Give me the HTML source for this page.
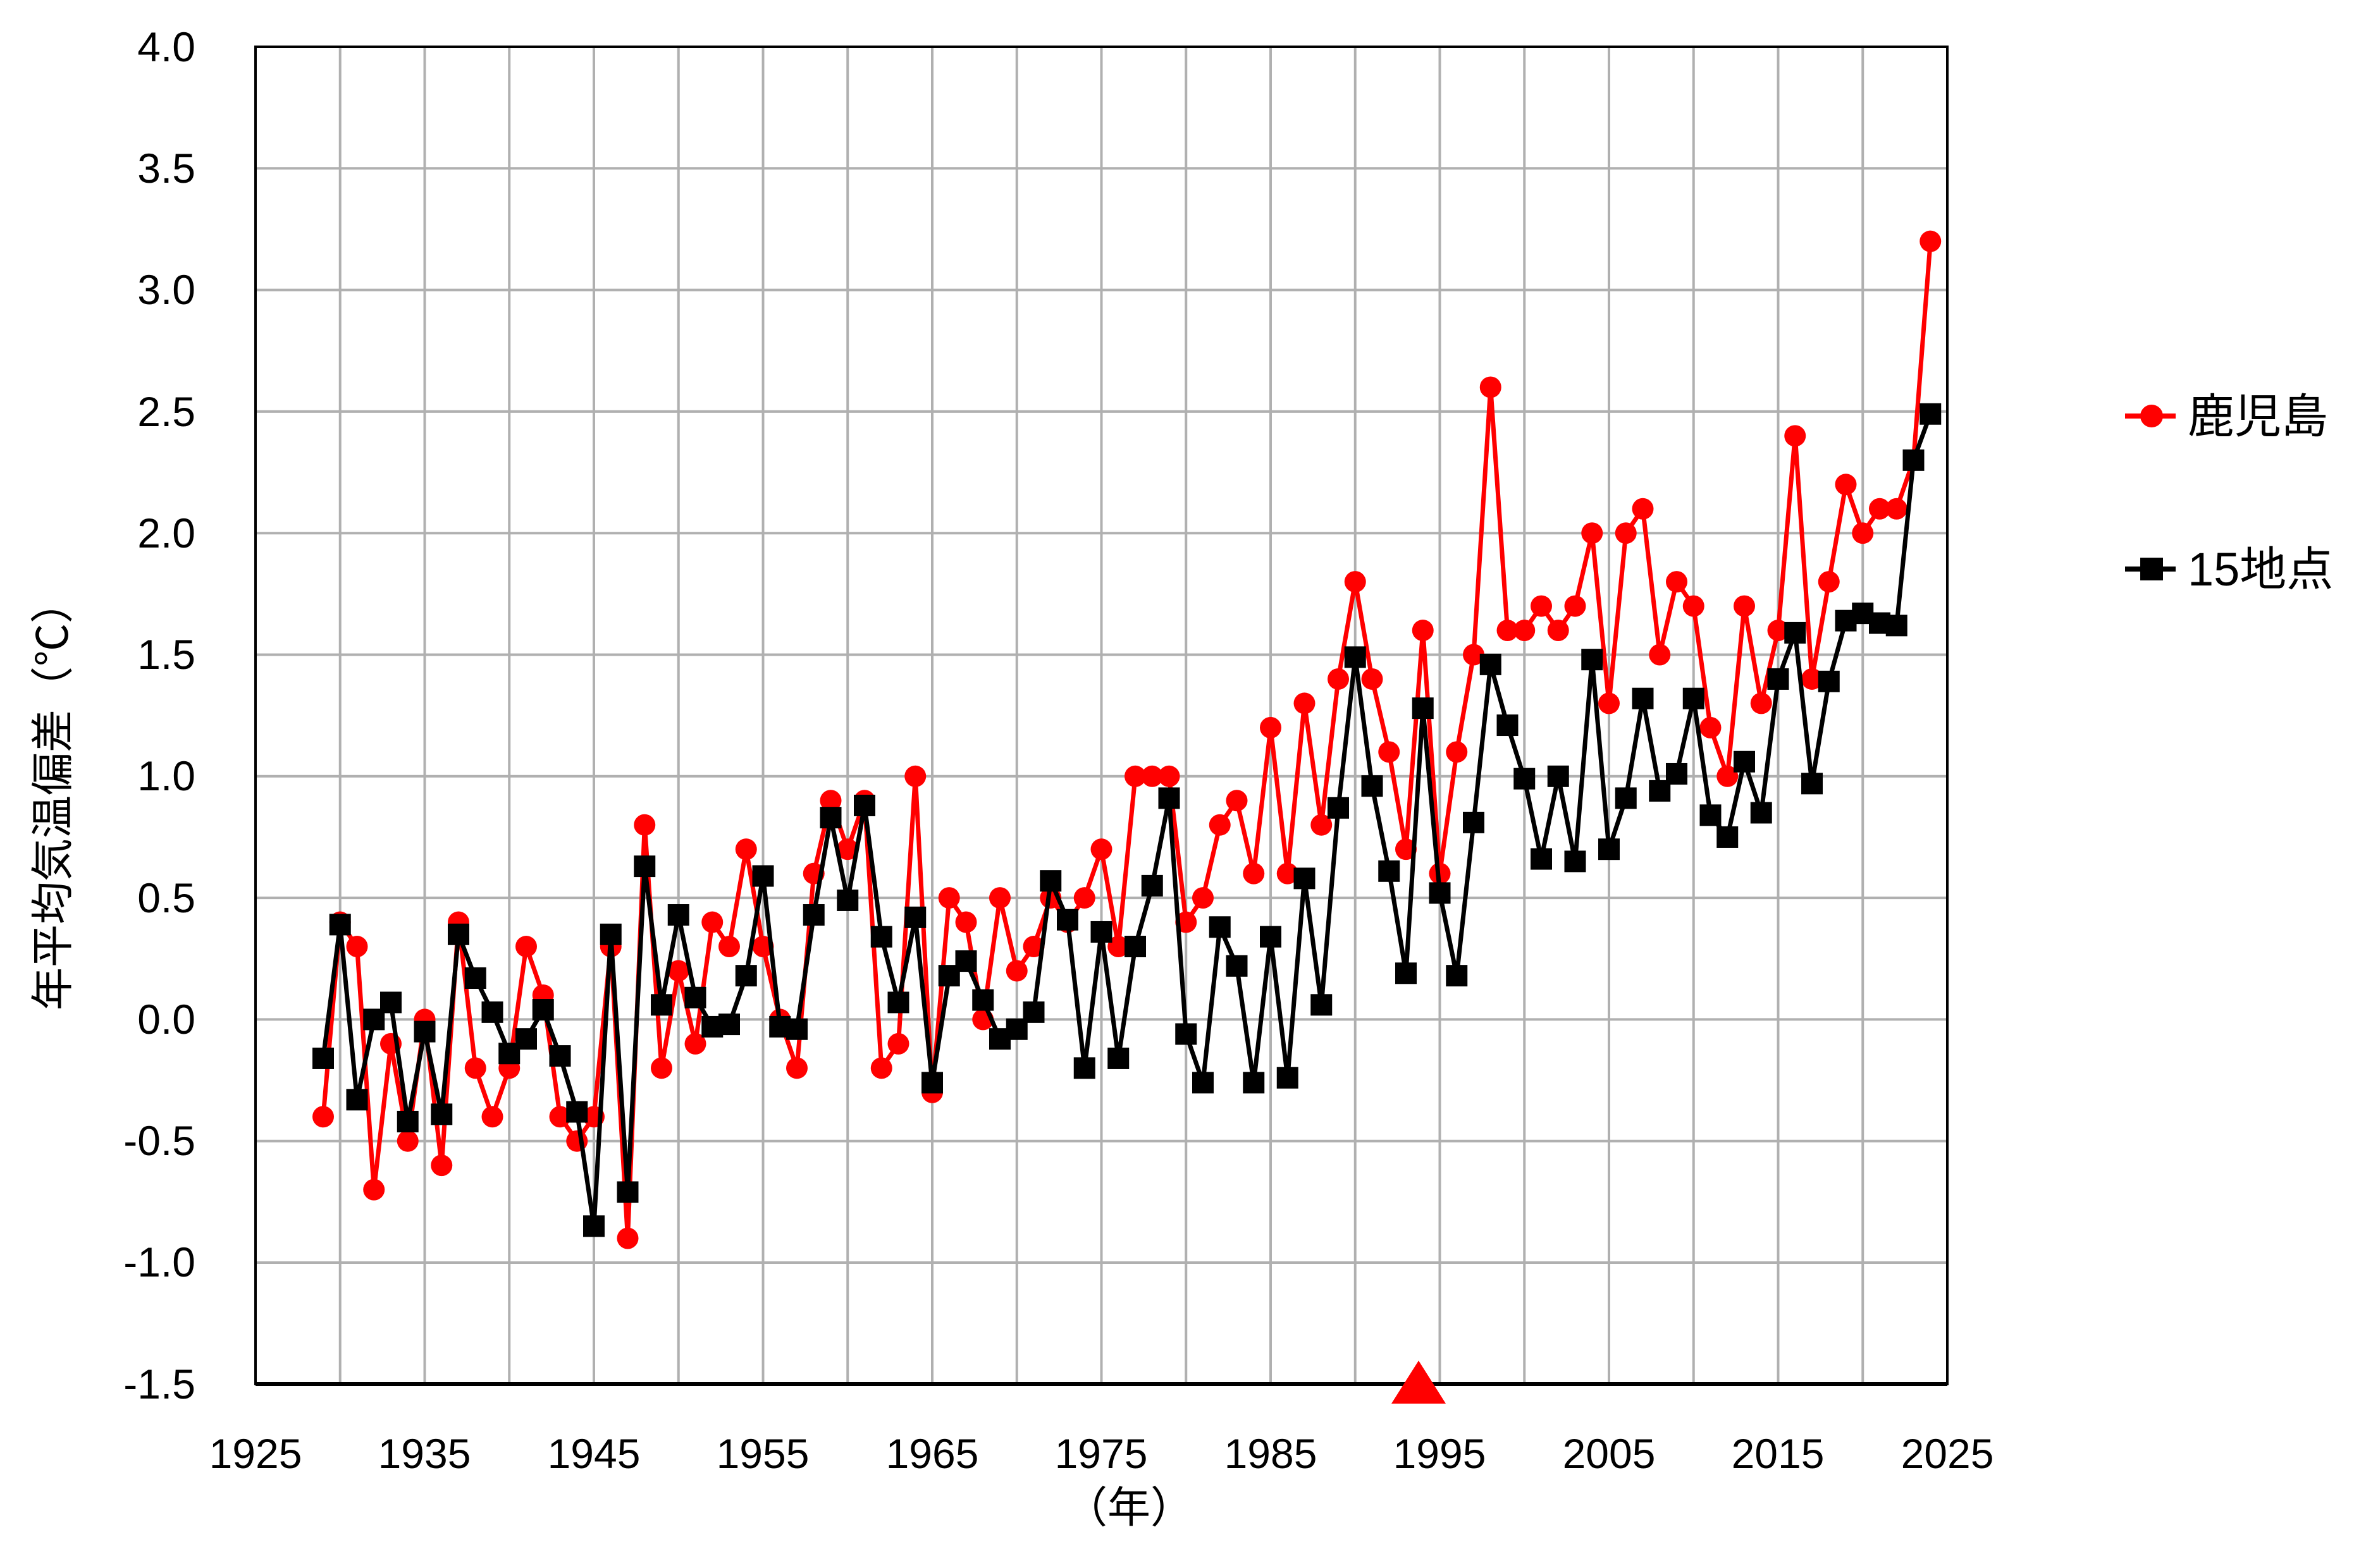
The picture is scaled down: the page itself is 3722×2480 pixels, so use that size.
<!DOCTYPE html>
<html><head><meta charset="utf-8"><style>
html,body{margin:0;padding:0;background:#fff;}
svg{display:block;}
text{font-family:"Liberation Sans","Noto Sans CJK JP",sans-serif;fill:#000;}
</style></head><body>
<svg id="s" width="3722" height="2480" viewBox="0 0 3722 2480" xmlns="http://www.w3.org/2000/svg">
<g id="grid" stroke="#b0b0b0" stroke-width="4"></g>
<rect x="404" y="74" width="2675" height="2115" fill="none" stroke="#000" stroke-width="4"/>
<line x1="404" y1="2189" x2="3079" y2="2189" stroke="#000" stroke-width="6"/>
<g font-size="66" text-anchor="end">
<text x="309" y="97">4.0</text><text x="309" y="289">3.5</text><text x="309" y="481">3.0</text>
<text x="309" y="674">2.5</text><text x="309" y="866">2.0</text><text x="309" y="1058">1.5</text>
<text x="309" y="1250">1.0</text><text x="309" y="1443">0.5</text><text x="309" y="1635">0.0</text>
<text x="309" y="1827">-0.5</text><text x="309" y="2019">-1.0</text><text x="309" y="2212">-1.5</text>
</g>
<g font-size="66" text-anchor="middle">
<text x="404" y="2322">1925</text><text x="671" y="2322">1935</text><text x="939" y="2322">1945</text>
<text x="1206" y="2322">1955</text><text x="1474" y="2322">1965</text><text x="1741" y="2322">1975</text>
<text x="2009" y="2322">1985</text><text x="2276" y="2322">1995</text><text x="2544" y="2322">2005</text>
<text x="2811" y="2322">2015</text><text x="3079" y="2322">2025</text>
<text x="1785" y="2408" font-size="68">（年）</text>
</g>
<text x="0" y="0" font-size="68" text-anchor="middle" transform="translate(107,1258) rotate(-90)">年平均気温偏差（℃）</text>
<polygon points="2243,2152 2200,2220 2286,2220" fill="#ff0000"/>
<g id="series"></g>
<line x1="3360" y1="658" x2="3440" y2="658" stroke="#ff0000" stroke-width="8"/>
<circle cx="3402" cy="658" r="18" fill="#ff0000"/>
<text x="3459" y="684" font-size="74">鹿児島</text>
<line x1="3360" y1="900" x2="3440" y2="900" stroke="#000" stroke-width="8"/>
<rect x="3384" y="882" width="36" height="36" fill="#000"/>
<text x="3459" y="926" font-size="74">15地点</text>
</svg>
<script>
var red=[-0.4,0.4,0.3,-0.7,-0.1,-0.5,0.0,-0.6,0.4,-0.2,-0.4,-0.2,0.3,0.1,-0.4,-0.5,-0.4,0.3,-0.9,0.8,-0.2,0.2,-0.1,0.4,0.3,0.7,0.3,0.0,-0.2,0.6,0.9,0.7,0.9,-0.2,-0.1,1.0,-0.3,0.5,0.4,0.0,0.5,0.2,0.3,0.5,0.4,0.5,0.7,0.3,1.0,1.0,1.0,0.4,0.5,0.8,0.9,0.6,1.2,0.6,1.3,0.8,1.4,1.8,1.4,1.1,0.7,1.6,0.6,1.1,1.5,2.6,1.6,1.6,1.7,1.6,1.7,2.0,1.3,2.0,2.1,1.5,1.8,1.7,1.2,1.0,1.7,1.3,1.6,2.4,1.4,1.8,2.2,2.0,2.1,2.1,2.3,3.2];
var blk=[-0.16,0.39,-0.33,0.0,0.07,-0.42,-0.05,-0.39,0.35,0.17,0.03,-0.14,-0.08,0.04,-0.15,-0.38,-0.85,0.35,-0.71,0.63,0.06,0.43,0.09,-0.03,-0.02,0.18,0.59,-0.03,-0.04,0.43,0.83,0.49,0.88,0.34,0.07,0.42,-0.26,0.18,0.24,0.08,-0.08,-0.04,0.03,0.57,0.41,-0.2,0.36,-0.16,0.3,0.55,0.91,-0.06,-0.26,0.38,0.22,-0.26,0.34,-0.24,0.58,0.06,0.87,1.49,0.96,0.61,0.19,1.28,0.52,0.18,0.81,1.46,1.21,0.99,0.66,1.0,0.65,1.48,0.7,0.91,1.32,0.94,1.01,1.32,0.84,0.75,1.06,0.85,1.4,1.59,0.97,1.39,1.64,1.67,1.63,1.62,2.3,2.49];
var NS="http://www.w3.org/2000/svg";
function X(y){return 404+(y-1925)*26.75;}
function Y(v){return 74+(4-v)*384.6;}
var g=document.getElementById('grid'),s=document.getElementById('series');
function el(n,a,p){var e=document.createElementNS(NS,n);for(var k in a)e.setAttribute(k,a[k]);p.appendChild(e);return e;}
for(var i=1;i<11;i++){el('line',{x1:404,x2:3079,y1:Y(4-0.5*i),y2:Y(4-0.5*i)},g);}
for(var yr=1930;yr<2025;yr+=5){el('line',{x1:X(yr),x2:X(yr),y1:74,y2:2189},g);}
function series(d,c,sq){var p='';d.forEach(function(v,i){p+=(i?'L':'M')+X(1929+i).toFixed(1)+','+Y(v).toFixed(1);});
el('path',{d:p,fill:'none',stroke:c,'stroke-width':7,'stroke-linejoin':'round'},s);
d.forEach(function(v,i){var x=X(1929+i),y=Y(v);if(sq)el('rect',{x:x-17,y:y-17,width:34,height:34,fill:c},s);else el('circle',{cx:x,cy:y,r:17,fill:c},s);});}
series(red,'#ff0000',false);series(blk,'#000',true);
</script>
</body></html>
